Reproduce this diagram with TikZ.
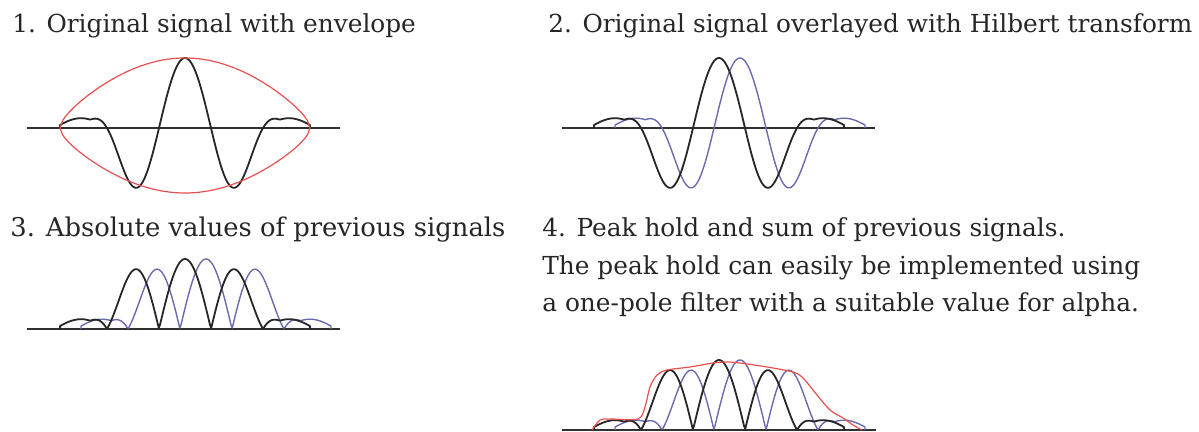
\documentclass[tikz,border=0pt]{standalone}
\usepackage{fontspec}
\setmainfont{DejaVu Serif}
\usetikzlibrary{positioning}
\definecolor{sigBlack}{HTML}{262626}
\definecolor{sigBlue}{HTML}{6A6AAE}
\definecolor{sigRed}{HTML}{E85050}
\definecolor{axisGray}{HTML}{303030}
\tikzset{
  sigAxis/.style={draw=axisGray, line width=1.3pt},
  sigOrig/.style={draw=sigBlack, line width=0.9pt, line join=round},
  sigHilb/.style={draw=sigBlue, line width=0.7pt, line join=round},
  sigEnv/.style={draw=sigRed, line width=0.6pt, line join=round},
  sigTitle/.style={anchor=base west, inner sep=0pt, text=black!85,
    font=\fontsize{12.4}{15}\selectfont}
}

\begin{document}
\begin{tikzpicture}[
    x=0.5pt, y=-0.5pt,
    declare function={win(\t)=max(exp(-(\t*\t/6400)*(\t*\t/6400)),0.14);
      sig(\t)=70*win(\t)*cos(3.4615*\t);
      env(\t)=0.5*sqrt(abs(cos(0.72*\t)))+0.5*cos(0.72*\t);}
  ]
  \useasboundingbox (0,0) rectangle (1199,432);

  % titles
  \node[sigTitle] (title1) at (12,33) {1. Original signal with envelope};
  \node[sigTitle] (title2) at (548,33) {2. Original signal overlayed with Hilbert transform};
  \node[sigTitle, font=\fontsize{12.9}{15}\selectfont] (title3) at (10,237) {3. Absolute values of previous signals};
  \node[sigTitle] (title4) at (542,237) {4. Peak hold and sum of previous signals.};
  \node[sigTitle] (note1) at (542,275) {The peak hold can easily be implemented using};
  \node[sigTitle] (note2) at (542,312) {a one-pole filter with a suitable value for alpha.};

  % 1. signal and envelope
  \draw[sigAxis] (27,128) -- (340,128);
  \draw[sigOrig] (60,128) -- plot[domain=-125:125, samples=201] ({185+\x},{128-sig(\x)}) -- (310,128);
  \draw[sigEnv] plot[domain=-125:125, samples=101] ({185+\x},{128-70*env(\x)})
    -- plot[domain=125:-125, samples=101] ({185+\x},{128+65*env(\x)}) -- cycle;

  % 2. signal and Hilbert transform
  \draw[sigAxis] (562,128) -- (875,128);
  \draw[sigHilb] (615,128) -- plot[domain=-125:125, samples=201] ({740+\x},{128-sig(\x)}) -- (865,128);
  \draw[sigOrig] (594,128) -- plot[domain=-125:125, samples=201] ({719+\x},{128-sig(\x)}) -- (844,128);

  % 3. absolute values
  \draw[sigAxis] (27,329) -- (340,329);
  \draw[sigHilb] (81,329) -- plot[domain=-125:125, samples=201] ({206+\x},{329-abs(sig(\x))}) -- (331,329);
  \draw[sigOrig] (60,329) -- plot[domain=-125:125, samples=201] ({185+\x},{329-abs(sig(\x))}) -- (310,329);

  % 4. peak hold
  \draw[sigAxis] (562,430) -- (876,430);
  \draw[sigHilb] (615,430) -- plot[domain=-125:125, samples=201] ({740+\x},{430-abs(sig(\x))}) -- (865,430);
  \draw[sigOrig] (594,430) -- plot[domain=-125:125, samples=201] ({719+\x},{430-abs(sig(\x))}) -- (844,430);
  \draw[sigEnv] plot[smooth, tension=0.5] coordinates {
    (592,430) (600,420) (610,419) (638,419) (645,407) (650,387) (657,375)
    (667,370) (690,367) (713,363) (727,362) (740,363) (767,367) (793,372)
    (803,378) (817,395) (830,410) (843,418) (853,425) (862,430)};
\end{tikzpicture}
\end{document}
